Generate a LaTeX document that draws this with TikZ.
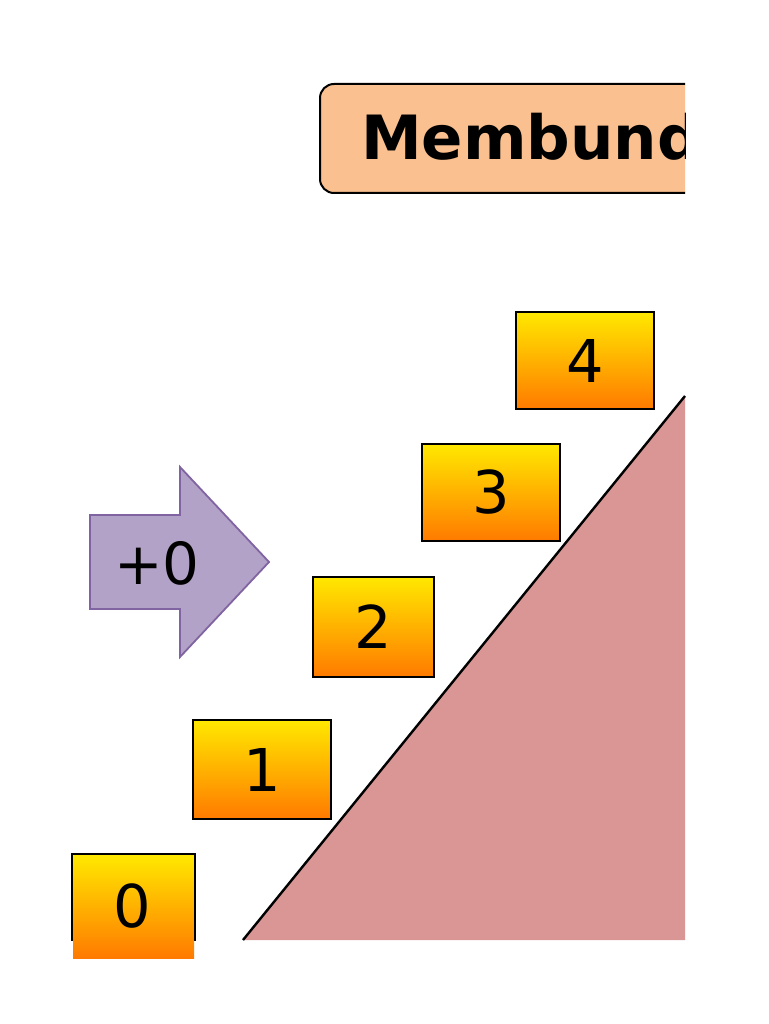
\documentclass[tikz,border=0pt]{standalone}
\usepackage{fontspec}
\setmainfont{DejaVu Sans}
\definecolor{titlefill}{HTML}{FAC090}
\definecolor{arrowfill}{HTML}{B3A2C7}
\definecolor{arrowline}{HTML}{8064A2}
\definecolor{rampfill}{HTML}{D99694}
\definecolor{gtop}{HTML}{FFE800}
\definecolor{gbot}{HTML}{FF7A00}
\tikzset{
  numbox/.style={draw=black, line width=2pt, top color=gtop, bottom color=gbot,
    inner sep=0pt, anchor=north west, font=\fontsize{59}{62}\selectfont},
}
\begin{document}
\begin{tikzpicture}[x=1pt,y=-1pt]
\useasboundingbox (0,0) rectangle (768,1024);
% ramp
\fill[rampfill] (243,940) -- (685,396) -- (685,940) -- cycle;
\coordinate (rampA) at (243,940);
\coordinate (rampB) at (685,396);
\draw[line width=2.4pt] (rampA) -- (rampB);
% title
\begin{scope}
\clip (0,0) rectangle (685,1024);
\node[draw=black, line width=2pt, fill=titlefill, rounded corners=14pt,
  minimum width=460pt, minimum height=109pt, anchor=north west, inner sep=0pt] (title) at (319,83) {};
\node[anchor=base west, font=\fontsize{61}{64}\selectfont\bfseries, inner sep=0pt] (titletext) at (361,160) {Membund};
\end{scope}
% boxes
\node[numbox, minimum width=138pt, minimum height=97pt] (b4) at (515,311) {4};
\node[numbox, minimum width=138pt, minimum height=97pt] (b3) at (421,443) {3};
\node[numbox, minimum width=121pt, minimum height=100pt] (b2) at (312,576) {2};
\node[numbox, minimum width=138pt, minimum height=99pt] (b1) at (192,719) {1};
% box 0 (border clipped at bottom)
\node[numbox, draw=none, minimum width=121pt, minimum height=103pt] (b0) at (72,854) {};
\begin{scope}
\clip (0,0) rectangle (768,940);
\draw[line width=2pt] (b0.south west) -- (b0.north west) -- (b0.north east) -- (b0.south east);
\end{scope}
\node[font=\fontsize{59}{62}\selectfont, inner sep=0pt] (b0t) at (132,906) {0};
% arrow
\draw[draw=arrowline, line width=1.8pt, line join=miter, fill=arrowfill] (90,515) -- (180,515) -- (180,467) -- (269,562) -- (180,657) -- (180,609) -- (90,609) -- cycle;
\node[font=\fontsize{58}{62}\selectfont, inner sep=0pt] (plus) at (157,563) {+0};
\end{tikzpicture}
\end{document}
